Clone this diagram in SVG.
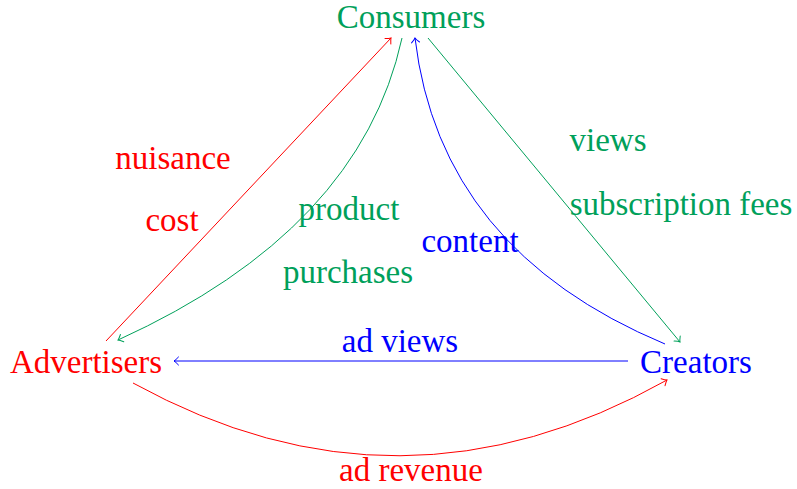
<svg xmlns="http://www.w3.org/2000/svg" width="797" height="489" viewBox="0 0 797 489">
  <style>
    text { font-family: "Liberation Serif", "DejaVu Serif", serif; font-size: 33px; text-anchor: middle; }
    .red { fill: #ff0000; }
    .green { fill: #00a05a; }
    .blue { fill: #0000ff; }
    .edge { fill: none; stroke-width: 1; }
    .er { stroke: #ff0000; }
    .eg { stroke: #00a05a; }
    .eb { stroke: #0000ff; }
  </style>
  <defs>
    <marker id="to-red" markerUnits="userSpaceOnUse" markerWidth="12" markerHeight="12" refX="0" refY="0" viewBox="-8 -6 10 12" orient="auto" overflow="visible">
      <path d="M-4.5,-4 Q-1.5,-0.8 0,0 Q-1.5,0.8 -4.5,4" fill="none" stroke="#ff0000" stroke-width="1" stroke-linecap="round"/>
    </marker>
    <marker id="to-green" markerUnits="userSpaceOnUse" markerWidth="12" markerHeight="12" refX="0" refY="0" viewBox="-8 -6 10 12" orient="auto" overflow="visible">
      <path d="M-4.5,-4 Q-1.5,-0.8 0,0 Q-1.5,0.8 -4.5,4" fill="none" stroke="#00a05a" stroke-width="1" stroke-linecap="round"/>
    </marker>
    <marker id="to-blue" markerUnits="userSpaceOnUse" markerWidth="12" markerHeight="12" refX="0" refY="0" viewBox="-8 -6 10 12" orient="auto" overflow="visible">
      <path d="M-4.5,-4 Q-1.5,-0.8 0,0 Q-1.5,0.8 -4.5,4" fill="none" stroke="#0000ff" stroke-width="1" stroke-linecap="round"/>
    </marker>
  </defs>

  <g id="connectors">
    <!-- Advertisers -> Consumers (nuisance / cost) -->
    <path class="edge er" d="M106,341 L391,38" marker-end="url(#to-red)"/>
    <!-- Consumers -> Advertisers (product purchases) -->
    <path class="edge eg" d="M402,38 Q360,230 118,340" marker-end="url(#to-green)"/>
    <!-- Creators -> Consumers (content) -->
    <path class="edge eb" d="M665,344 Q440,250 415,38" marker-end="url(#to-blue)"/>
    <!-- Consumers -> Creators (views / subscription fees) -->
    <path class="edge eg" d="M428,38 L680,342" marker-end="url(#to-green)"/>
    <!-- Creators -> Advertisers (ad views) -->
    <path class="edge eb" d="M628,361 L174,361" marker-end="url(#to-blue)"/>
    <!-- Advertisers -> Creators (ad revenue) -->
    <path class="edge er" d="M133,383 Q400,530 667,380" marker-end="url(#to-red)"/>
  </g>

  <g id="consumers"><text class="green" x="411" y="28">Consumers</text></g>
  <g id="advertisers"><text class="red" x="86" y="373">Advertisers</text></g>
  <g id="creators"><text class="blue" x="696" y="373">Creators</text></g>

  <g id="labels">
    <text class="red" x="173" y="169">nuisance</text>
    <text class="red" x="172" y="231">cost</text>
    <text class="green" x="349" y="220">product</text>
    <text class="green" x="348" y="283">purchases</text>
    <text class="blue" x="470" y="252">content</text>
    <text class="green" x="608" y="151">views</text>
    <text class="green" x="681" y="215">subscription fees</text>
    <text class="blue" x="400" y="352">ad views</text>
    <text class="red" x="411" y="481">ad revenue</text>
  </g>
</svg>
